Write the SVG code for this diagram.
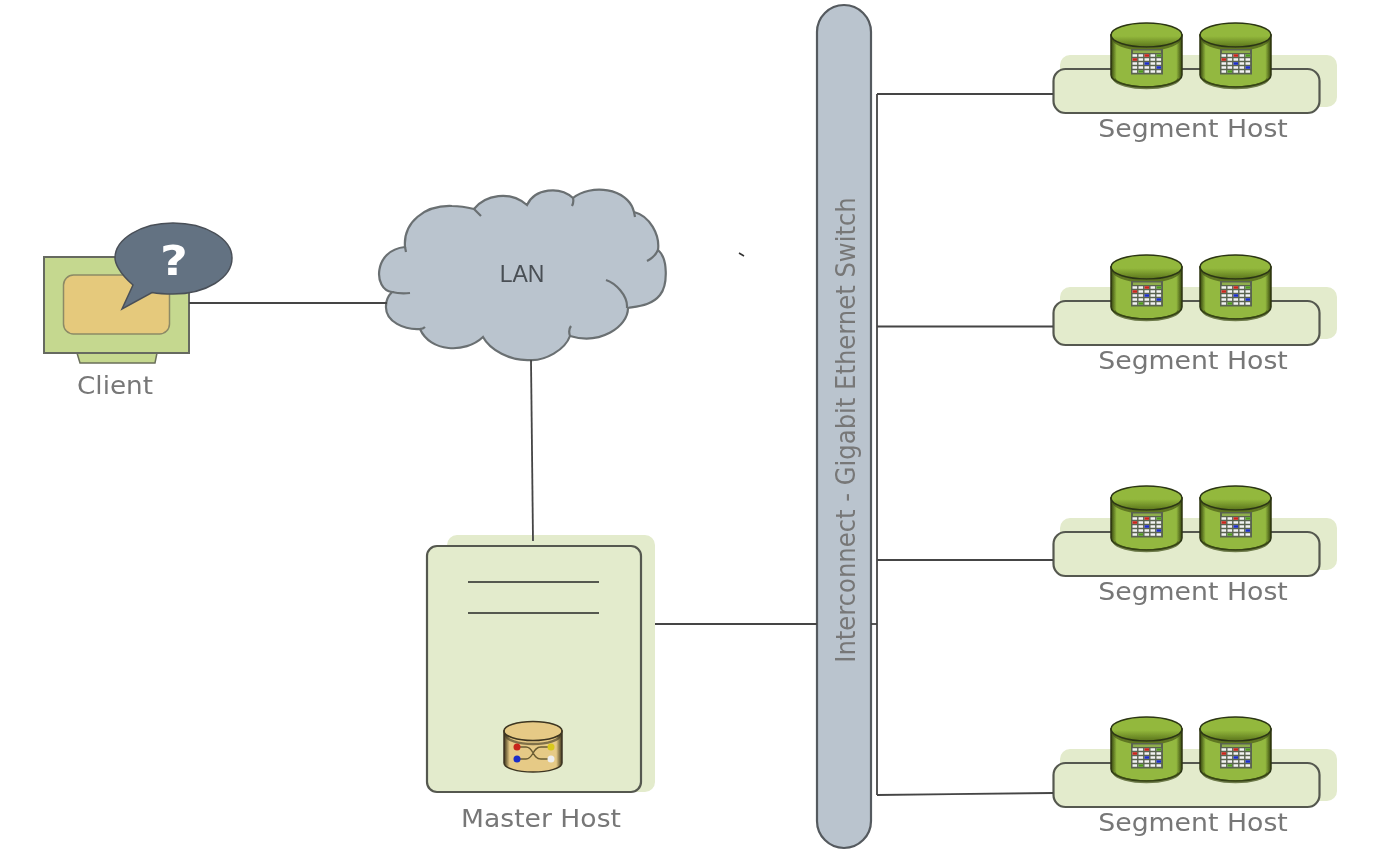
<svg xmlns="http://www.w3.org/2000/svg" width="1383" height="865" viewBox="0 0 1383 865">
<style>
text{font-family:"DejaVu Sans","Liberation Sans",sans-serif;fill:#777}
.lbl{font-size:24.3px;text-anchor:middle}
.line{fill:none;stroke:#444;stroke-width:1.8}
.host{fill:#e3ebcc;stroke:#55584f;stroke-width:2.2}
.pale{fill:#e3ebcc}
.ol{stroke:#6a6f72;stroke-width:2.2;fill:none}
</style>
<defs>
<filter id="soft" x="-2%" y="-2%" width="104%" height="104%"><feGaussianBlur stdDeviation="0.6"/></filter>
<linearGradient id="gbody" x1="0" x2="1" y1="0" y2="0"><stop offset="0" stop-color="#34440f"/><stop offset=".08" stop-color="#93b83f"/><stop offset=".92" stop-color="#93b83f"/><stop offset="1" stop-color="#34440f"/></linearGradient>
<linearGradient id="gtop" x1="0" x2="0" y1="0" y2="1"><stop offset="0" stop-color="#93b83c"/><stop offset=".55" stop-color="#93b83c"/><stop offset="1" stop-color="#5a741c"/></linearGradient>
<linearGradient id="ybody" x1="0" x2="1" y1="0" y2="0"><stop offset="0" stop-color="#3a3218"/><stop offset=".1" stop-color="#e6ca86"/><stop offset=".9" stop-color="#e6ca86"/><stop offset="1" stop-color="#3a3218"/></linearGradient>
<g id="seg">
<path d="M0 12V52A35.500 12 0 0 0 71 52V12Z" fill="url(#gbody)" stroke="#2c3512" stroke-width="1.500"/>
<path d="M3 56A33 10.500 0 0 0 68 56" fill="none" stroke="#3a4a12" stroke-width="3" opacity=".7"/>
<path d="M3 17A33 11 0 0 0 68 17" fill="none" stroke="#3a4a12" stroke-width="3" opacity=".6"/>
<ellipse cx="35.500" cy="12" rx="35.500" ry="12" fill="url(#gtop)" stroke="#2c3512" stroke-width="1.600"/>
<rect x="20" y="26" width="32" height="25.500" fill="#5a6450"/>
<rect x="22" y="27.500" width="28" height="2.500" fill="#8fae4e"/>
<g stroke="#f2f2f2" stroke-width="2.600" stroke-dasharray="4.600 1.400">
<path d="M21.500 32.500h29M21.500 36.500h29M21.500 40.500h29M21.500 44.500h29M21.500 48.500h29"/>
</g>
<rect x="33.500" y="31.200" width="4.600" height="2.600" fill="#c8261c"/><rect x="45.500" y="31.200" width="4.600" height="2.600" fill="#4f9a1e"/>
<rect x="21.500" y="35.200" width="4.600" height="2.600" fill="#c8261c"/><rect x="33.500" y="39.200" width="4.600" height="2.600" fill="#1c2fc8"/>
<rect x="45.500" y="43.200" width="4.600" height="2.600" fill="#1c2fc8"/><rect x="27.500" y="47.200" width="4.600" height="2.600" fill="#4f9a1e"/>
</g>
</defs>
<g filter="url(#soft)">
<path id="tick" d="M739 253L744 256" stroke="#333" stroke-width="1.500"/>
<g id="client">
<path d="M77 353L80 363H155L157 353Z" fill="#c5d88f" stroke="#6a6f5a" stroke-width="1.500"/>
<rect x="44" y="257" width="145" height="96" fill="#c5d88f" stroke="#666b60" stroke-width="2"/>
<rect x="63.500" y="275" width="106" height="59" rx="10" fill="#e5c97c" stroke="#8c8a66" stroke-width="1.500"/>
<path d="M133 285C118 272 115 262 115 258C115 239 141 223 173 223C206 223 232 239 232 258C232 278 206 294 173 294C165 294 158 293.500 152 292.500L122 309Z" fill="#637282" stroke="#4a5058" stroke-width="1.500"/>
<text transform="translate(174 275) scale(1.2 1)" font-size="40" font-weight="700" text-anchor="middle" style="fill:#fff">?</text>
<text class="lbl" transform="translate(115 394) scale(1.08 1)">Client</text>
</g>
<g id="lan">
<path d="M405 247C403 222 425 205 452 206C462 206 470 208 474 209C485 195 510 190 527 205C535 188 560 186 573 198C590 184 628 187 634 212C650 216 660 235 658 250C668 258 668 285 660 295C652 305 640 306 628 308C628 327 600 345 570 336C565 350 545 361 530 360C510 361 490 350 483 337C465 354 430 352 420 329C405 330 385 322 386 306C386 300 389 295 392 292C373 290 373 250 405 247Z" fill="#bac4ce" stroke="#6a6f72" stroke-width="2.200"/>
<path class="ol" d="M474 209L481 216M573 198Q574 202 572 206M634 212L635 217M658 250Q655 257 647 261M606 280C615 283 628 295 627 308M570 336Q568 330 571 326M420 329Q423 329 425 327M392 292Q400 294 410 293M405 247L406 252"/>
<text x="522" y="282" font-size="23" text-anchor="middle" style="font-family:'Liberation Sans',Arial,sans-serif;fill:#4a4f55">LAN</text>
</g>
<g id="switch">
<rect x="817" y="5" width="54" height="843" rx="27" fill="#bac4ce" stroke="#555a5e" stroke-width="2.200"/>
<text transform="translate(855 430) rotate(-90) scale(1 1.1)" font-size="24.300" text-anchor="middle">Interconnect - Gigabit Ethernet Switch</text>
</g>
<g id="master">
<rect class="pale" x="447" y="535" width="208" height="257" rx="10"/>
<rect class="host" x="427" y="546" width="214" height="246" rx="10"/>
<path d="M468 582H599M468 613H599" stroke="#55584f" stroke-width="1.800"/>
<path d="M504 731V763A29 9 0 0 0 562 763V731Z" fill="url(#ybody)" stroke="#3c3520" stroke-width="1.500"/>
<path d="M506 735A27 9 0 0 0 560 735" fill="none" stroke="#3c3520" stroke-width="2.500" opacity=".6"/>
<ellipse cx="533" cy="731" rx="29" ry="9.500" fill="#e6ca86" stroke="#3c3520" stroke-width="1.600"/>
<path d="M517 747H526C534 747 532 759 541 759H551M517 759H526C534 759 532 747 541 747H551" fill="none" stroke="#6a5c32" stroke-width="1.400"/>
<circle cx="517" cy="747" r="3.500" fill="#c8261c"/><circle cx="517" cy="759" r="3.500" fill="#1c2fc8"/>
<circle cx="551" cy="747" r="3.500" fill="#d8c81c"/><circle cx="551" cy="759" r="3.500" fill="#eee"/>
<text class="lbl" transform="translate(541 827) scale(1.095 1)">Master Host</text>
</g>
<g id="segment1"><rect class="pale" x="1060" y="55" width="277" height="52" rx="10"/><rect class="host" x="1053.500" y="69" width="266" height="44" rx="12"/><use href="#seg" x="1111" y="23"/><use href="#seg" x="1200" y="23"/><text class="lbl" transform="translate(1193 137) scale(1.1 1)">Segment Host</text></g>
<g id="segment2"><rect class="pale" x="1060" y="287" width="277" height="52" rx="10"/><rect class="host" x="1053.500" y="301" width="266" height="44" rx="12"/><use href="#seg" x="1111" y="255"/><use href="#seg" x="1200" y="255"/><text class="lbl" transform="translate(1193 369) scale(1.1 1)">Segment Host</text></g>
<g id="segment3"><rect class="pale" x="1060" y="518" width="277" height="52" rx="10"/><rect class="host" x="1053.500" y="532" width="266" height="44" rx="12"/><use href="#seg" x="1111" y="486"/><use href="#seg" x="1200" y="486"/><text class="lbl" transform="translate(1193 600) scale(1.1 1)">Segment Host</text></g>
<g id="segment4"><rect class="pale" x="1060" y="749" width="277" height="52" rx="10"/><rect class="host" x="1053.500" y="763" width="266" height="44" rx="12"/><use href="#seg" x="1111" y="717"/><use href="#seg" x="1200" y="717"/><text class="lbl" transform="translate(1193 831) scale(1.1 1)">Segment Host</text></g>
<g id="connectors" class="line">
<path d="M189 303H387"/>
<path d="M531 360L533 541"/>
<path d="M655 624H817"/>
<path d="M871 624H877"/>
<path d="M877 94V795"/>
<path d="M877 94H1053"/>
<path d="M877 326.500H1053"/>
<path d="M877 560H1053"/>
<path d="M877 795L1053 793"/>
</g>
</g>
</svg>
